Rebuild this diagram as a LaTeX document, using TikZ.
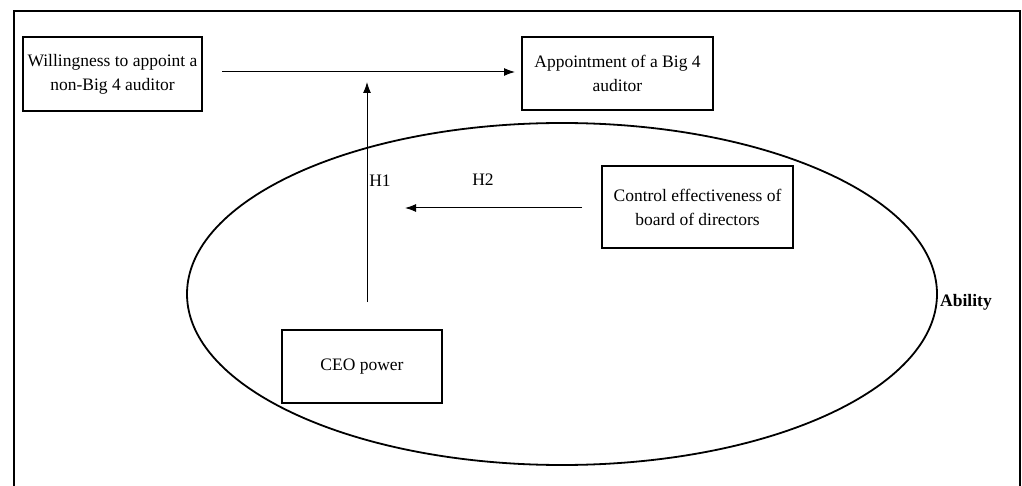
\documentclass[tikz,border=0pt]{standalone}
\usepackage{fontspec}
\setmainfont{Liberation Serif}
\usepackage{tikz}
\usetikzlibrary{positioning,arrows.meta,shapes.geometric}

\tikzset{
  varbox/.style={draw, line width=1.6pt, align=center, inner sep=2pt,
    font=\fontsize{17.5}{24}\selectfont},
  link/.style={line width=1pt, -{Latex[length=11pt,width=8pt]}},
  hyp/.style={font=\fontsize{17.5}{24}\selectfont}
}

\begin{document}
\begin{tikzpicture}[x=1pt,y=-1pt]
\useasboundingbox (0,0) rectangle (1022,486);
% frame
\draw[line width=1.6pt] (14,486) -- (14,11) -- (1020,11) -- (1020,486);
% ability region
\node[ellipse, draw, line width=1.8pt, minimum width=750pt, minimum height=342pt] (ability) at (562,294) {};
\node[font=\fontsize{17.5}{24}\selectfont\bfseries] (abilitylabel) at (966,302) {Ability};
% variables
\node[varbox, minimum width=179pt, minimum height=74pt] (willing) at (112.5,74) {Willingness to appoint a\\non-Big 4 auditor};
\node[varbox, minimum width=191pt, minimum height=73pt] (bigfour) at (617.5,73.5) {Appointment of a Big 4\\auditor};
\node[varbox, minimum width=191pt, minimum height=82pt] (board) at (697.5,207) {Control effectiveness of\\board of directors};
\node[varbox, minimum width=160pt, minimum height=73pt] (ceo) at (362,366.5) {CEO power};
% arrow ends
\coordinate (wstart) at (222,72);
\coordinate (wend) at (515,72);
\coordinate (cstart) at (367,302);
\coordinate (cend) at (367,82);
\coordinate (bstart) at (582,208);
\coordinate (bend) at (405,208);
\draw[link] (wstart) -- (wend);
\draw[link] (cstart) -- (cend);
\draw[link] (bstart) -- (bend);
\node[hyp] (hone) at (380,181) {H1};
\node[hyp] (htwo) at (483,180) {H2};
\end{tikzpicture}
\end{document}
